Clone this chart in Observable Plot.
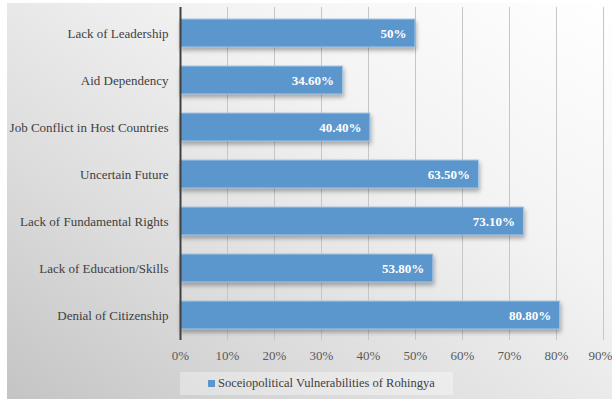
<!DOCTYPE html>
<html>
<head>
<meta charset="utf-8">
<script src="https://cdn.jsdelivr.net/npm/d3@7"></script>
<script src="https://cdn.jsdelivr.net/npm/@observablehq/plot@0.6"></script>
<style>
  html, body { margin: 0; padding: 0; background: #ffffff; }
  #wrap { position: relative; width: 612px; height: 400px; overflow: hidden; }
  #bg { position: absolute; left: 7px; top: 3px; width: 605px; height: 396px;
        background: linear-gradient(215deg, #ffffff 0%, #f3f3f3 35%, #dcdcdc 70%, #c4c4c4 100%); }
  #chart { position: absolute; left: 0; top: 0; }
  #chart svg { background: transparent !important; overflow: visible; }
  g[aria-label="bar"] rect { filter: drop-shadow(1px 3px 2px rgba(0,0,0,0.3)); }
  #legend { position: absolute; left: 180px; top: 372px; width: 273px; height: 23px;
            background: rgba(255,255,255,0.35); font-family: "Liberation Serif", "Times New Roman", serif;
            font-size: 12.5px; color: #404040; display: flex; align-items: center; }
  #legend .sw { display: inline-block; width: 7px; height: 7px; background: #5b96cc; margin: 0 3px 0 28px; }
</style>
</head>
<body>
<div id="wrap">
  <div id="bg"></div>
  <div id="chart"></div>
  <div id="legend"><span class="sw"></span><span id="legtext"></span></div>
</div>
<script>
const categories = [
  "Lack of Leadership",
  "Aid Dependency",
  "Job Conflict in Host Countries",
  "Uncertain Future",
  "Lack of Fundamental Rights",
  "Lack of Education/Skills",
  "Denial of Citizenship"
];
const values = [50, 34.6, 40.4, 63.5, 73.1, 53.8, 80.8];
const valueLabels = ["50%", "34.60%", "40.40%", "63.50%", "73.10%", "53.80%", "80.80%"];
const xTicks = [0, 10, 20, 30, 40, 50, 60, 70, 80, 90];
const seriesName = "Soceiopolitical Vulnerabilities of Rohingya";

const data = categories.map((c, i) => ({cat: c, v: values[i], label: valueLabels[i]}));
const lastTick = xTicks[xTicks.length - 1];

const chart = Plot.plot({
  width: 612,
  height: 400,
  marginLeft: 180,
  marginRight: 9,
  marginTop: 7,
  marginBottom: 60,
  style: {fontFamily: "'Liberation Serif', 'Times New Roman', serif", fontSize: "13px", background: "transparent"},
  x: {domain: [0, 90], ticks: xTicks, tickFormat: d => d + "%", label: null},
  y: {domain: categories, label: null, paddingInner: 0.41, paddingOuter: 0.205, align: 0.5},
  marks: [
    Plot.ruleX(xTicks.filter(d => d > 0), {stroke: "#c6c6c6", strokeWidth: 1}),
    Plot.barX(data, {x: "v", y: "cat", fill: "#5b96cc", stroke: "#a9c8e6", strokeWidth: 1}),
    Plot.text(data, {x: "v", y: "cat", text: "label", textAnchor: "end", dx: -9, fill: "white",
                     fontWeight: "bold", fontSize: 13}),
    Plot.ruleX([0], {stroke: "#404040", strokeWidth: 2}),
    Plot.axisX({ticks: xTicks.slice(0, -1), tickFormat: d => d + "%", tickSize: 0, tickPadding: 10, fill: "#595959", fontSize: 13, label: null}),
    Plot.axisX({ticks: [lastTick], tickFormat: d => d + "%", tickSize: 0, tickPadding: 10, dx: -3, fill: "#595959", fontSize: 13, label: null}),
    Plot.axisY({tickSize: 0, tickPadding: 12, fill: "#404040", fontSize: 13, label: null})
  ]
});
document.getElementById("chart").appendChild(chart);
document.getElementById("legtext").textContent = seriesName;
</script>
</body>
</html>
